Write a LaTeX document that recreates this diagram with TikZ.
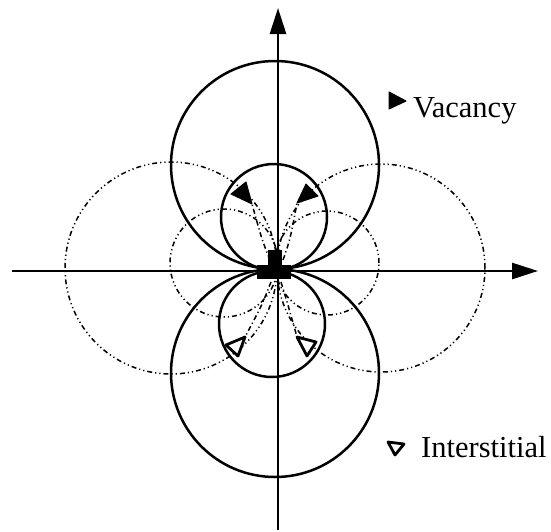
\documentclass[tikz,border=0pt]{standalone}
\usepackage{fontspec}
\setmainfont{Liberation Serif}
\usetikzlibrary{arrows.meta}
\tikzset{
  axisline/.style={line width=2.6pt,-{Triangle[length=26pt,width=16pt]}},
  solidcirc/.style={line width=2.5pt},
  dashcirc/.style={line width=1.5pt,dash pattern=on 5pt off 3pt on 1.2pt off 3pt on 1.2pt off 3pt},
  tailline/.style={line width=1.5pt,dash pattern=on 5pt off 3pt on 1.2pt off 3pt},
  vacmark/.style={fill=black,draw=black,line width=1pt,line join=round},
  intmark/.style={fill=white,draw=black,line width=2.8pt,line join=round},
  legendtext/.style={font=\fontsize{30.5}{36}\selectfont,inner sep=0pt,anchor=base west}
}
\begin{document}
\begin{tikzpicture}[x=1pt,y=-1pt]
\useasboundingbox (0,0) rectangle (551,531);
\coordinate (O) at (276,270);
% axes
\coordinate (xl) at (12,271);
\coordinate (xr) at (538,271);
\coordinate (yb) at (278,530);
\coordinate (yt) at (278,8);
\draw[axisline] (xl) -- (xr);
\draw[axisline] (yb) -- (yt);
% solid circles
\coordinate (cU) at (275,165);
\coordinate (cD) at (275,373);
\coordinate (cu) at (274,217);
\coordinate (cd) at (272,324);
\draw[solidcirc] (cU) circle (104pt);
\draw[solidcirc] (cD) circle (104pt);
\draw[solidcirc] (cu) circle (53pt);
\draw[solidcirc] (cd) circle (53pt);
% dash-dot circles
\coordinate (cL) at (171,268);
\coordinate (cR) at (381,268);
\coordinate (cl) at (224,263);
\coordinate (cr) at (327,263);
\draw[dashcirc] (cL) circle (106pt);
\draw[dashcirc] (cR) circle (104pt);
\draw[dashcirc] (cl) circle (54pt);
\draw[dashcirc] (cr) circle (52pt);
% tails
\coordinate (t1) at (270,260);
\coordinate (t2) at (283,260);
\coordinate (t3) at (271,282);
\coordinate (t4) at (281,282);
\coordinate (a1) at (252,204);
\coordinate (a2) at (297,203);
\coordinate (a3) at (245,337);
\coordinate (a4) at (297,337);
\draw[tailline] (t1) .. controls (262,240) .. (a1);
\draw[tailline] (t2) .. controls (290,240) .. (a2);
\draw[tailline] (t3) .. controls (262,305) .. (a3);
\draw[tailline] (t4) .. controls (288,305) .. (a4);
% vacancy markers
\draw[vacmark] (231,194) -- (246,182) -- (a1) -- cycle;
\draw[vacmark] (318,196) -- (306,184) -- (a2) -- cycle;
% interstitial markers
\draw[intmark] (226,345) -- (a3) -- (238,356) -- cycle;
\draw[intmark] (a4) -- (316,342) -- (307,356) -- cycle;
% central defect
\fill (268,250) rectangle (282,267);
\fill (257,265) rectangle (291,279);
% legend
\draw[vacmark] (389,92) -- (389,109) -- (406,101) -- cycle;
\node[legendtext] (vac) at (413,117) {Vacancy};
\draw[intmark] (388,442) -- (404,444) -- (395,455) -- cycle;
\node[legendtext] (int) at (421,457) {Interstitial};
\end{tikzpicture}
\end{document}
